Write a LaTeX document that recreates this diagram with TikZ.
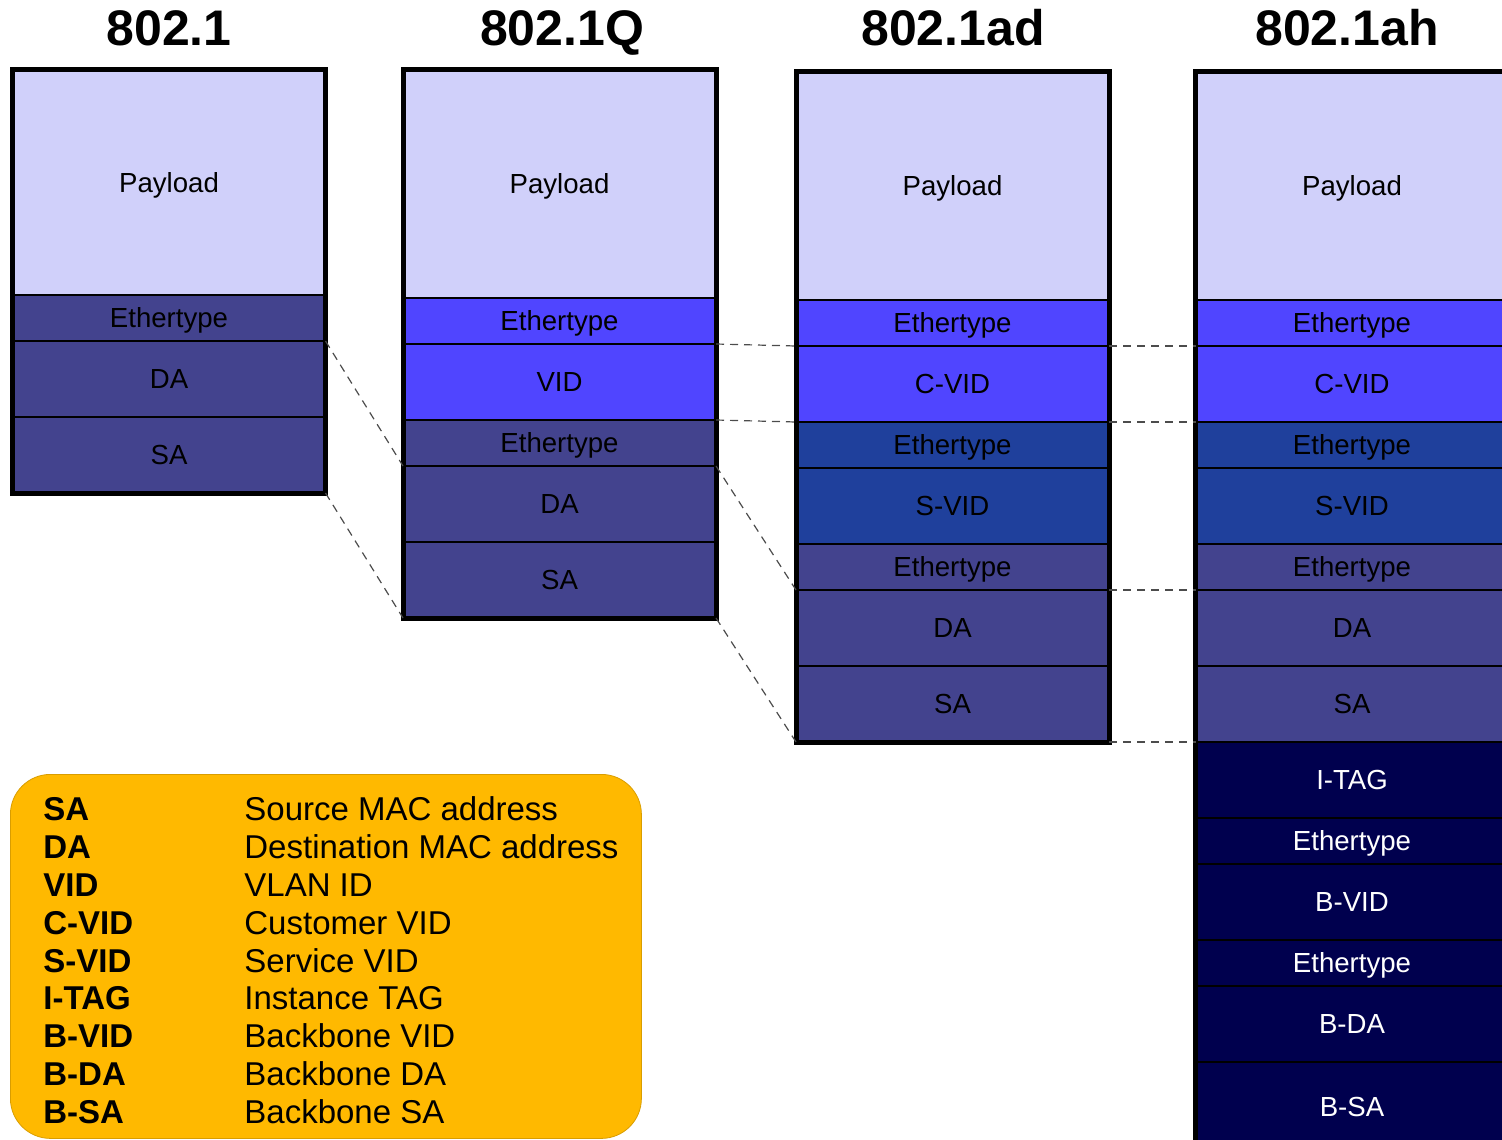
\documentclass[tikz,border=0pt]{standalone}
\usepackage{fontspec}
\setmainfont{Liberation Sans}
\usetikzlibrary{positioning}

\definecolor{payloadfill}{RGB}{208,208,250}
\definecolor{slate}{RGB}{67,67,142}
\definecolor{ctagblue}{RGB}{80,69,255}
\definecolor{stagblue}{RGB}{31,64,156}
\definecolor{navy}{RGB}{0,0,78}
\definecolor{legendfill}{RGB}{255,185,0}

\begin{document}
\begin{tikzpicture}[x=0.5pt,y=-0.5pt,
    cell/.style={draw=black,line width=0.6pt,minimum width=156.5pt,
      inner sep=0pt,outer sep=0pt,text height=9.9pt,text depth=0pt,
      font=\fontsize{13.8}{16}\selectfont},
    payload/.style={cell,fill=payloadfill,minimum height=114pt},
    short/.style={cell,minimum height=23pt},
    tall/.style={cell,minimum height=38pt},
    plain/.style={fill=slate},
    ctag/.style={fill=ctagblue},
    stag/.style={fill=stagblue},
    btag/.style={fill=navy,text=white},
    frame/.style={draw=black,line width=2.5pt},
    link/.style={draw=black!70,line width=0.6pt,dash pattern=on 4pt off 3pt},
    title/.style={font=\fontsize{25}{30}\selectfont\bfseries,anchor=base,inner sep=0pt},
    legend/.style={fill=legendfill,draw=legendfill!85!black,line width=0.4pt,
      rounded corners=20pt,anchor=north west,minimum width=315.5pt,
      minimum height=182pt,inner sep=0pt}]

    \useasboundingbox (0,0) rectangle (1502,1139);
    \clip (0,0) rectangle (1502,1139);

    % --- Judul tiap standar ---------------------------------------------------
    \node[title] (t1) at (169,46) {802.1};
    \node[title] (t2) at (562,46) {802.1Q};
    \node[title] (t3) at (953,46) {802.1ad};
    \node[title] (t4) at (1347,46) {802.1ah};

    % --- Kolom 1: 802.1 -------------------------------------------------------
    \node[payload,minimum height=112.5pt,anchor=north] (c1p) at (169,70) {Payload};
    \node[short,plain,below=0pt of c1p] (c1e) {Ethertype};
    \node[tall,plain,below=0pt of c1e] (c1da) {DA};
    \node[tall,plain,below=0pt of c1da] (c1sa) {SA};
    \draw[frame] (c1p.north west) rectangle (c1sa.south east);

    % --- Kolom 2: 802.1Q ------------------------------------------------------
    \node[payload,anchor=north] (c2p) at (559.5,70) {Payload};
    \node[short,ctag,below=0pt of c2p] (c2e1) {Ethertype};
    \node[tall,ctag,below=0pt of c2e1] (c2vid) {VID};
    \node[short,plain,below=0pt of c2vid] (c2e2) {Ethertype};
    \node[tall,plain,below=0pt of c2e2] (c2da) {DA};
    \node[tall,plain,below=0pt of c2da] (c2sa) {SA};
    \draw[frame] (c2p.north west) rectangle (c2sa.south east);

    % --- Kolom 3: 802.1ad -----------------------------------------------------
    \node[payload,anchor=north] (c3p) at (952.5,72) {Payload};
    \node[short,ctag,below=0pt of c3p] (c3e1) {Ethertype};
    \node[tall,ctag,below=0pt of c3e1] (c3cvid) {C-VID};
    \node[short,stag,below=0pt of c3cvid] (c3e2) {Ethertype};
    \node[tall,stag,below=0pt of c3e2] (c3svid) {S-VID};
    \node[short,plain,below=0pt of c3svid] (c3e3) {Ethertype};
    \node[tall,plain,below=0pt of c3e3] (c3da) {DA};
    \node[tall,plain,below=0pt of c3da] (c3sa) {SA};
    \draw[frame] (c3p.north west) rectangle (c3sa.south east);

    % --- Kolom 4: 802.1ah (terpotong di kanan dan bawah) ----------------------
    \node[payload,anchor=north] (c4p) at (1352,72) {Payload};
    \node[short,ctag,below=0pt of c4p] (c4e1) {Ethertype};
    \node[tall,ctag,below=0pt of c4e1] (c4cvid) {C-VID};
    \node[short,stag,below=0pt of c4cvid] (c4e2) {Ethertype};
    \node[tall,stag,below=0pt of c4e2] (c4svid) {S-VID};
    \node[short,plain,below=0pt of c4svid] (c4e3) {Ethertype};
    \node[tall,plain,below=0pt of c4e3] (c4da) {DA};
    \node[tall,plain,below=0pt of c4da] (c4sa) {SA};
    \node[tall,btag,below=0pt of c4sa] (c4itag) {I-TAG};
    \node[short,btag,below=0pt of c4itag] (c4e4) {Ethertype};
    \node[tall,btag,below=0pt of c4e4] (c4bvid) {B-VID};
    \node[short,btag,below=0pt of c4bvid] (c4e5) {Ethertype};
    \node[tall,btag,below=0pt of c4e5] (c4bda) {B-DA};
    \node[tall,btag,minimum height=45pt,below=0pt of c4bda] (c4bsa) {B-SA};
    \draw[frame] (c4p.north west) rectangle (c4bsa.south east);

    % --- Garis putus-putus antar kolom ----------------------------------------
    \draw[link] (c1da.north east) -- (c2da.north west);
    \draw[link] (c1sa.south east) -- (c2sa.south west);
    \draw[link] (c2vid.north east) -- (c3cvid.north west);
    \draw[link] (c2vid.south east) -- (c3cvid.south west);
    \draw[link] (c2da.north east) -- (c3da.north west);
    \draw[link] (c2sa.south east) -- (c3sa.south west);
    \draw[link] (c3cvid.north east) -- (c4cvid.north west);
    \draw[link] (c3cvid.south east) -- (c4cvid.south west);
    \draw[link] (c3da.north east) -- (c4da.north west);
    \draw[link] (c3sa.south east) -- (c4sa.south west);

    % --- Keterangan singkatan -------------------------------------------------
    \node[legend] (legend) at (10,774) {};
    \node[anchor=north west,inner sep=0pt,font=\fontsize{16.5}{18.9}\selectfont]
      (legendtext) at (43,794)
      {\begin{tabular}{@{}p{100.5pt}@{}l@{}}
        \textbf{SA}    & Source MAC address\\
        \textbf{DA}    & Destination MAC address\\
        \textbf{VID}   & VLAN ID\\
        \textbf{C-VID} & Customer VID\\
        \textbf{S-VID} & Service VID\\
        \textbf{I-TAG} & Instance TAG\\
        \textbf{B-VID} & Backbone VID\\
        \textbf{B-DA}  & Backbone DA\\
        \textbf{B-SA}  & Backbone SA
      \end{tabular}};
  \end{tikzpicture}
\end{document}
